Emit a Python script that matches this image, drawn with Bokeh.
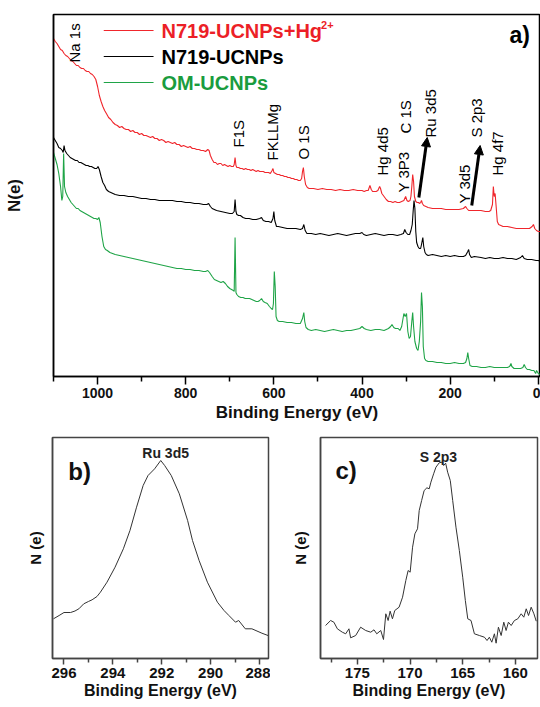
import math
from bokeh.plotting import figure
from bokeh.layouts import column, row
from bokeh.models import Range1d, FixedTicker, Arrow, NormalHead
from bokeh.core.properties import value
from bokeh.embed import file_html
from bokeh.resources import INLINE

FONT = "Liberation Sans"
RED = "#f0262c"
GREEN = "#1fa447"
RED_TXT = "#ec1f27"
GREEN_TXT = "#1a9c3e"

# ---------------- panel a: survey spectra (binding energy eV, counts a.u.) -------------
red_energy = [1100, 1096, 1092, 1088, 1084, 1080, 1076, 1072, 1068, 1064,
              1060, 1056, 1052, 1048, 1044, 1040, 1036, 1032, 1028, 1024,
              1020, 1016, 1012, 1008, 1004, 1000, 996, 992, 988, 984,
              980, 975, 970, 965, 960, 955, 950, 945, 940, 935,
              930, 925, 920, 915, 910, 905, 900, 895, 890, 885,
              880, 875, 870, 865, 860, 855, 850, 845, 840, 835,
              830, 825, 820, 815, 810, 805, 800, 795, 790, 785,
              780, 775, 770, 765, 760, 755, 750, 747, 744, 740,
              736, 732, 728, 724, 720, 716, 712, 708, 704, 700,
              696, 692, 690, 688, 686, 684, 680, 676, 672, 668,
              664, 660, 656, 652, 648, 644, 640, 636, 632, 628,
              624, 620, 616, 612, 608, 604, 602, 600, 596, 592,
              588, 584, 580, 576, 572, 568, 564, 560, 556, 552,
              548, 544, 540, 537, 535, 533, 531, 528, 524, 520,
              510, 500, 490, 480, 470, 460, 450, 440, 430, 420,
              410, 400, 395, 390, 386, 382, 379, 376, 372, 368,
              364, 360, 358, 355, 350, 345, 340, 335, 330, 325,
              320, 315, 310, 305, 301, 298, 295, 291, 289, 287,
              285, 283, 281, 278, 275, 272, 269, 267, 265, 263,
              260, 255, 250, 240, 230, 220, 210, 200, 190, 180,
              170, 165, 162, 158, 150, 140, 130, 120, 112, 108,
              104, 102, 100, 98, 96, 93, 90, 85, 80, 70,
              60, 50, 45, 40, 30, 20, 14, 11, 8, 4,
              0, -5]
red_counts = [338, 335, 333, 330, 327, 326, 323, 321, 320, 318,
              316, 315, 313, 311, 311, 309, 308, 308, 306, 305,
              305, 303, 302, 300, 297, 290, 281, 275, 270, 266,
              263, 259, 257, 254, 252, 251, 249, 250, 248, 247,
              247, 245, 246, 244, 244, 242, 243, 241, 241, 240,
              239, 240, 238, 238, 236, 237, 236, 234, 235, 234,
              233, 234, 232, 232, 230, 231, 230, 229, 230, 228,
              228, 227, 227, 226, 226, 225, 227, 226, 221, 217,
              214, 214, 212, 213, 213, 211, 212, 211, 210, 211,
              210, 210, 212, 219, 211, 209, 209, 208, 208, 207,
              208, 207, 207, 206, 207, 206, 205, 206, 205, 205,
              205, 204, 204, 204, 203, 206, 208, 204, 203, 202,
              202, 201, 201, 200, 200, 199, 199, 198, 198, 197,
              197, 196, 196, 198, 205, 209, 200, 192, 189, 188,
              188, 187, 188, 187, 187, 186, 187, 186, 186, 187,
              186, 186, 185, 186, 186, 191, 187, 185, 185, 185,
              186, 190, 188, 183, 180, 177, 175, 175, 174, 175,
              174, 174, 175, 176, 180, 176, 175, 176, 180, 190,
              202, 195, 180, 175, 174, 174, 173, 174, 176, 173,
              171, 170, 169, 168, 168, 168, 167, 167, 167, 167,
              168, 170, 168, 166, 166, 166, 166, 165, 165, 166,
              172, 190, 180, 183, 172, 155, 152, 151, 150, 150,
              149, 148, 148, 148, 148, 148, 150, 152, 148, 146,
              145, 145]

black_energy = [1100, 1096, 1092, 1088, 1084, 1080, 1078, 1076, 1074, 1070,
                1066, 1062, 1058, 1054, 1050, 1046, 1042, 1038, 1034, 1030,
                1026, 1022, 1018, 1014, 1010, 1006, 1002, 999, 996, 992,
                988, 984, 980, 975, 970, 965, 960, 950, 940, 930,
                920, 910, 900, 890, 880, 870, 860, 850, 840, 830,
                820, 810, 800, 790, 780, 770, 760, 752, 748, 744,
                740, 735, 730, 720, 710, 700, 694, 690, 688, 686,
                684, 680, 676, 670, 664, 656, 648, 640, 632, 628,
                624, 618, 612, 606, 602, 600, 598, 594, 590, 580,
                570, 560, 550, 540, 535, 532, 529, 525, 515, 505,
                495, 485, 475, 465, 455, 445, 435, 425, 415, 405,
                400, 396, 390, 380, 370, 360, 350, 340, 330, 320,
                312, 306, 303, 300, 296, 292, 289, 286, 284, 282,
                280, 278, 276, 273, 270, 267, 265, 262, 260, 257,
                254, 250, 240, 230, 220, 210, 200, 190, 180, 170,
                165, 160, 158, 156, 152, 145, 130, 120, 110, 100,
                90, 80, 70, 60, 50, 40, 36, 32, 25, 15,
                5, 0, -5]
black_counts = [239, 236, 233, 229, 228, 226, 224, 231, 226, 223,
                221, 219, 218, 217, 216, 216, 214, 214, 213, 212,
                211, 211, 210, 210, 209, 208, 208, 210, 207, 200,
                194, 191, 187, 185, 184, 183, 182, 181, 181, 180,
                180, 179, 178, 178, 177, 177, 176, 176, 176, 176,
                175, 175, 174, 174, 173, 173, 172, 172, 173, 170,
                168, 167, 166, 165, 164, 163, 163, 165, 177, 165,
                162, 161, 161, 159, 158, 158, 157, 157, 158, 159,
                156, 155, 155, 154, 158, 165, 156, 150, 150, 149,
                148, 148, 148, 147, 148, 152, 146, 143, 143, 142,
                143, 142, 141, 142, 143, 142, 141, 142, 143, 143,
                144, 142, 141, 142, 143, 142, 141, 142, 142, 141,
                142, 143, 147, 144, 142, 142, 146, 152, 165, 176,
                168, 145, 134, 130, 128, 128, 132, 139, 130, 124,
                122, 121, 122, 121, 120, 121, 120, 121, 120, 120,
                121, 125, 127, 122, 119, 120, 119, 118, 119, 118,
                118, 119, 118, 118, 117, 119, 121, 118, 117, 117,
                116, 116, 115]

green_energy = [1100, 1096, 1092, 1088, 1084, 1081, 1079, 1077, 1075, 1072,
                1068, 1064, 1060, 1056, 1052, 1048, 1044, 1040, 1036, 1032,
                1028, 1024, 1020, 1016, 1012, 1008, 1004, 1000, 997, 994,
                990, 986, 982, 978, 972, 966, 960, 950, 940, 930,
                920, 910, 900, 890, 880, 870, 860, 850, 840, 830,
                820, 810, 800, 790, 780, 770, 760, 755, 750, 746,
                740, 735, 730, 725, 720, 715, 710, 705, 700, 696,
                692, 690, 688, 686, 684, 680, 675, 670, 665, 660,
                655, 650, 645, 640, 636, 632, 628, 624, 620, 615,
                610, 606, 603, 601, 599, 597, 595, 592, 588, 580,
                570, 560, 550, 545, 540, 535, 532, 530, 527, 522,
                515, 505, 495, 485, 475, 465, 455, 445, 435, 425,
                415, 405, 400, 395, 390, 380, 370, 360, 350, 340,
                335, 332, 328, 324, 318, 314, 310, 305, 302, 299,
                296, 293, 290, 287, 285, 283, 280, 276, 273, 270,
                267, 265, 263, 261, 258, 255, 250, 240, 230, 220,
                210, 200, 190, 180, 170, 165, 162, 160, 158, 155,
                150, 140, 130, 120, 110, 100, 90, 80, 70, 65,
                62, 60, 55, 50, 40, 35, 32, 29, 25, 20,
                15, 10, 6, 4, 0, -5]
green_counts = [224, 218, 212, 203, 190, 176, 180, 223, 190, 184,
                180, 177, 174, 172, 170, 168, 168, 166, 165, 164,
                163, 162, 161, 160, 159, 158, 158, 157, 159, 154,
                140, 130, 127, 126, 124, 123, 122, 121, 120, 119,
                118, 117, 116, 115, 114, 113, 112, 111, 110, 109,
                108, 108, 107, 107, 106, 106, 105, 105, 106, 104,
                100, 97, 96, 95, 94, 95, 93, 90, 88, 87,
                86, 85, 139, 84, 82, 80, 79, 79, 78, 78,
                78, 77, 76, 75, 75, 76, 78, 75, 74, 73,
                70, 68, 67, 73, 105, 90, 60, 56, 55, 55,
                54, 54, 53, 53, 53, 58, 64, 55, 49, 47,
                46, 47, 46, 45, 46, 47, 46, 45, 46, 46,
                47, 48, 50, 48, 47, 46, 47, 47, 46, 48,
                50, 52, 49, 48, 48, 46, 50, 63, 60, 63,
                45, 38, 40, 55, 64, 50, 35, 28, 26, 35,
                55, 84, 70, 30, 18, 16, 15, 15, 14, 14,
                13, 13, 14, 13, 13, 14, 18, 24, 18, 11,
                10, 10, 9, 9, 10, 9, 9, 9, 9, 10,
                13, 10, 8, 8, 8, 9, 12, 9, 7, 7,
                6, 6, 3, 6, 3, 2]

a_xticks = [0, 200, 400, 600, 800, 1000]
a_xminor = [100, 300, 500, 700, 900, 1100]

# peak annotations: label, energy, counts at the foot of the rotated text
peak_labels = ["Na 1s", "F1S", "FKLLMg", "O 1S", "Hg 4d5", "Y 3P3", "C 1S",
               "Ru 3d5", "Y 3d5", "S 2p3", "Hg 4f7"]
peak_label_x = [1052, 681, 603, 533, 354, 306, 301, 245, 168, 141, 93]
peak_label_y = [314, 229, 216, 217, 201, 184, 243, 239, 173, 239, 201]

legend_names = ["N719-UCNPs+Hg", "N719-UCNPs", "OM-UCNPs"]
legend_colors = [RED, "black", GREEN]
legend_text_colors = [RED_TXT, "black", GREEN_TXT]
legend_y = [346, 320, 294]

# ---------------- panel b: Ru 3d5 ------------------
ru_energy = [296.43, 296.2, 296.0, 295.73, 295.55, 295.39, 295.19, 295.0, 294.85, 294.65,
             294.51, 294.24, 293.91, 293.57, 293.30, 293.03, 292.76, 292.56, 292.29, 292.04,
             291.88, 291.61, 291.28, 290.94, 290.74, 290.47, 290.13, 289.72, 289.45, 289.25,
             288.98, 288.85, 288.58, 288.31, 287.90, 287.65]
ru_counts = [39.7, 43, 46, 46, 47.5, 49.7, 54.7, 57, 58.7, 62,
             66.3, 76.3, 91.3, 109.7, 128, 151.3, 173, 183, 189.7, 198,
             193, 183, 164.7, 138, 118, 98, 76.3, 56.3, 48, 43,
             36.3, 38, 29.7, 29.7, 25.3, 23]
b_xticks = [288, 290, 292, 294, 296]
b_xminor = [289, 291, 293, 295]

# ---------------- panel c: S 2p3 ------------------
s_energy = [178.02, 177.54, 177.23, 176.9, 176.43, 176.11, 175.8, 175.64, 175.16, 174.69,
            174.21, 173.73, 173.42, 173.16, 172.78, 172.52, 172.30, 172.08, 171.89, 171.67,
            171.45, 171.04, 170.71, 170.4, 170.18, 169.99, 169.76, 169.54, 169.29, 169.13,
            168.9, 168.66, 168.4, 168.18, 168.02, 167.76, 167.54, 167.23, 167.0, 166.81,
            166.62, 166.43, 166.18, 165.95, 165.64, 165.32, 165.0, 164.75, 164.52, 164.21,
            163.89, 163.42, 162.94, 162.69, 162.47, 162.24, 161.99, 161.83, 161.61, 161.35,
            161.10, 160.88, 160.66, 160.40, 160.09, 159.77, 159.45, 159.2, 158.97, 158.75,
            158.50, 158.24, 158.02]
s_counts = [33, 38, 36.3, 29.7, 26.3, 24.7, 29.7, 20.7, 23, 31.3,
            28, 26.3, 28.7, 24.7, 28, 19, 44.7, 38, 47.3, 39.7,
            48, 51.3, 61.3, 78, 88, 86.3, 111.3, 124.7, 129.7, 148,
            158, 168, 170.7, 169.7, 176.3, 184.7, 191.3, 195.7, 196.3, 193,
            195.3, 186.3, 178, 158, 131.3, 108, 81.3, 58, 39.7, 38,
            24.7, 23, 21.3, 18, 21.3, 16.3, 24.7, 15.3, 31.3, 23,
            36.3, 28, 36.3, 33, 38, 39.7, 44.7, 41.3, 49.7, 43,
            51.3, 44.7, 37.3]
c_xticks = [160, 165, 170, 175]
c_xminor = [162.5, 167.5, 172.5, 177.5]

for a, b in [(red_energy, red_counts), (black_energy, black_counts),
             (green_energy, green_counts), (ru_energy, ru_counts), (s_energy, s_counts)]:
    assert len(a) == len(b), (len(a), len(b))


def style_axes(p, ticks, minor, tick_size, title_size, frame_color, tick_out, minor_out,
               label_standoff, title_standoff, ylabel, ylabel_size, ylabel_standoff):
    p.xgrid.visible = False
    p.ygrid.visible = False
    p.outline_line_color = frame_color
    p.outline_line_width = 1.5
    p.background_fill_color = "white"
    p.border_fill_color = "white"
    ax = p.xaxis[0]
    ax.ticker = FixedTicker(ticks=ticks, minor_ticks=minor)
    ax.axis_label = "Binding Energy (eV)"
    ax.axis_label_text_font = FONT
    ax.axis_label_text_font_style = "bold"
    ax.axis_label_text_font_size = title_size
    ax.axis_label_text_color = "#111111"
    ax.axis_label_standoff = title_standoff
    ax.major_label_text_font = FONT
    ax.major_label_text_font_style = "bold"
    ax.major_label_text_font_size = tick_size
    ax.major_label_text_color = "#111111"
    ax.major_label_standoff = label_standoff
    ax.major_tick_out = tick_out
    ax.major_tick_in = 0
    ax.minor_tick_out = minor_out
    ax.minor_tick_in = 0
    ax.axis_line_color = frame_color
    ax.axis_line_width = 1.5
    ax.major_tick_line_color = frame_color
    ax.major_tick_line_width = 1.5
    ax.minor_tick_line_color = frame_color
    ax.minor_tick_line_width = 1.5
    ay = p.yaxis[0]
    ay.ticker = FixedTicker(ticks=[])
    ay.axis_label = ylabel
    ay.axis_label_text_font = FONT
    ay.axis_label_text_font_style = "bold"
    ay.axis_label_text_font_size = ylabel_size
    ay.axis_label_text_color = "#111111"
    ay.axis_label_standoff = ylabel_standoff
    ay.axis_line_color = frame_color
    ay.axis_line_width = 1.5


# ---------------- figure a ----------------
pa = figure(width=540, height=425, x_range=Range1d(1100, -5), y_range=Range1d(0, 362),
            output_backend="svg", toolbar_location=None,
            min_border_left=53, min_border_right=0, min_border_top=14, min_border_bottom=49)
style_axes(pa, a_xticks, a_xminor, "14px", "17px", "black", 8, 5, 3, 2, "N(e)", "17px", 30)

pa.line(red_energy, red_counts, color=RED, line_width=1.1)
pa.line(black_energy, black_counts, color="black", line_width=1.1)
pa.line(green_energy, green_counts, color=GREEN, line_width=1.1)

pa.text(x=peak_label_x, y=peak_label_y, text=peak_labels, angle=math.pi / 2,
        text_font=value(FONT), text_font_size="15px", text_align="left",
        text_baseline="middle", text_color="black")

pa.add_layout(Arrow(end=NormalHead(size=9, fill_color="black", line_color="black"),
                    x_start=271, y_start=179, x_end=252, y_end=239,
                    line_width=3, line_color="black"))
pa.add_layout(Arrow(end=NormalHead(size=9, fill_color="black", line_color="black"),
                    x_start=151, y_start=171, x_end=132, y_end=231,
                    line_width=3, line_color="black"))

for name, lc, tc, yy in zip(legend_names, legend_colors, legend_text_colors, legend_y):
    pa.line([986, 873], [yy, yy], color=lc, line_width=1.2)
    pa.text(x=[855], y=[yy], text=[name], text_font=value(FONT), text_font_size="20px",
            text_font_style="bold", text_color=tc, text_align="left", text_baseline="middle")
pa.text(x=[493], y=[352], text=["2+"], text_font=value(FONT), text_font_size="11px",
        text_font_style="bold", text_color=RED_TXT, text_align="left", text_baseline="middle")
pa.text(x=[42], y=[342], text=["a)"], text_font=value(FONT), text_font_size="23px",
        text_font_style="bold", text_color="black", text_align="center", text_baseline="middle")

# ---------------- figure b ----------------
pb = figure(width=270, height=282, x_range=Range1d(296.47, 287.63), y_range=Range1d(0, 221),
            output_backend="svg", toolbar_location=None,
            min_border_left=52, min_border_right=2, min_border_top=12, min_border_bottom=49)
style_axes(pb, b_xticks, b_xminor, "15px", "16px", "#444444", 6, 4, 3, 1, "N (e)", "15px", 9)
pb.line(ru_energy, ru_counts, color="#333333", line_width=1)
pb.text(x=[291.84], y=[206], text=["Ru 3d5"], text_font=value(FONT), text_font_size="14px",
        text_font_style="bold", text_color="#222222", text_align="center", text_baseline="middle")
pb.text(x=[295.36], y=[187], text=["b)"], text_font=value(FONT), text_font_size="24px",
        text_font_style="bold", text_color="#111111", text_align="center", text_baseline="middle")

# ---------------- figure c ----------------
pc = figure(width=270, height=282, x_range=Range1d(178.5, 157.9), y_range=Range1d(0, 221),
            output_backend="svg", toolbar_location=None,
            min_border_left=50, min_border_right=3, min_border_top=12, min_border_bottom=49)
style_axes(pc, c_xticks, c_xminor, "15px", "16px", "#444444", 6, 4, 3, 1, "N (e)", "15px", 12)
pc.line(s_energy, s_counts, color="#333333", line_width=1)
pc.text(x=[167.3], y=[202], text=["S 2p3"], text_font=value(FONT), text_font_size="14px",
        text_font_style="bold", text_color="#222222", text_align="center", text_baseline="middle")
pc.text(x=[176.07], y=[188], text=["c)"], text_font=value(FONT), text_font_size="24px",
        text_font_style="bold", text_color="#111111", text_align="center", text_baseline="middle")

layout = column(pa, row(pb, pc))
open("out.html", "w").write(file_html(layout, INLINE))
